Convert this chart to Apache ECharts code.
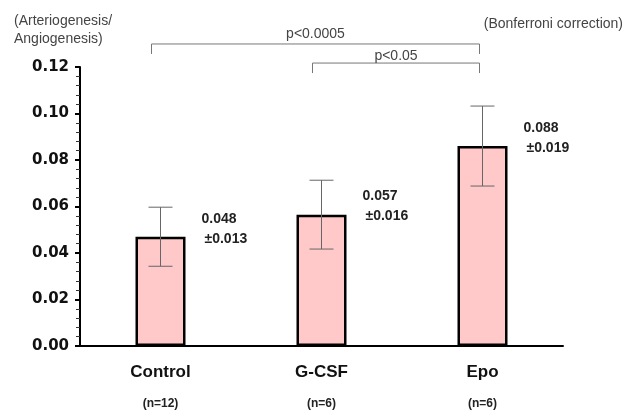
<!DOCTYPE html>
<html><head><meta charset="utf-8">
<script src="https://cdn.jsdelivr.net/npm/echarts@6/dist/echarts.min.js"></script>
<style>html,body{margin:0;padding:0;background:#fff}#c{width:633px;height:410px}</style>
</head><body><div id="c"></div>
<script>
const categories = ['Control', 'G-CSF', 'Epo'];
const sampleSizes = ['(n=12)', '(n=6)', '(n=6)'];
const means = [0.047, 0.0565, 0.086];
const errors = [0.0127, 0.0148, 0.0172];
const meanLabels = ['0.048', '0.057', '0.088'];
const sdLabels = ['±0.013', '±0.016', '±0.019'];
const yTicks = [0, 0.02, 0.04, 0.06, 0.08, 0.10, 0.12];
const comparisons = [
  ['Control', 'Epo', 'p<0.0005'],
  ['G-CSF', 'Epo', 'p<0.05']
];

const FONT = 'Liberation Sans';
const chart = echarts.init(document.getElementById('c'), null, {renderer: 'canvas'});

const errData = categories.map((c, i) => [i, means[i] - errors[i], means[i] + errors[i]]);
const bracketData = comparisons.map((cmp, k) => [
  categories.indexOf(cmp[0]), categories.indexOf(cmp[1]), 0.1299 - k * 0.0082, k
]);

chart.setOption({
  animation: false,
  backgroundColor: '#fff',
  title: [
    {text: '(Arteriogenesis/\nAngiogenesis)', left: 9, top: 7,
     textStyle: {fontFamily: FONT, fontSize: 14, fontWeight: 'normal', color: '#444', lineHeight: 18}},
    {text: '(Bonferroni correction)', right: 5, top: 12,
     textStyle: {fontFamily: FONT, fontSize: 14, fontWeight: 'normal', color: '#444'}}
  ],
  grid: {left: 80, right: 70, top: 67, bottom: 64, containLabel: false, outerBoundsMode: 'none'},
  xAxis: {
    type: 'category', data: categories,
    axisLine: {lineStyle: {color: '#000', width: 2}},
    axisTick: {alignWithLabel: true, length: 4, lineStyle: {color: '#000', width: 2}},
    axisLabel: {
      margin: 12,
      formatter: (v, i) => '{a|' + v + '}\n{b|' + sampleSizes[i] + '}',
      rich: {
        a: {fontFamily: FONT, fontSize: 17, fontWeight: 'bold', color: '#111', lineHeight: 28},
        b: {fontFamily: FONT, fontSize: 12, fontWeight: 'bold', color: '#222', lineHeight: 35}
      }
    }
  },
  yAxis: {
    type: 'value', min: 0, max: 0.12, interval: 0.02,
    splitLine: {show: false},
    axisLine: {show: true, lineStyle: {color: '#000', width: 2}},
    axisTick: {show: true, length: 5, lineStyle: {color: '#000', width: 2}},
    minorTick: {show: true, splitNumber: 5, length: 4, lineStyle: {color: '#333', width: 1}},
    axisLabel: {
      margin: 11, fontFamily: 'DejaVu Sans', fontSize: 15, fontWeight: 'bold', color: '#111',
      formatter: v => yTicks.includes(Math.round(v * 100) / 100) ? v.toFixed(2) : ''
    }
  },
  series: [
    {
      type: 'bar', data: means, barWidth: 50,
      itemStyle: {color: '#ffc9c9', borderColor: '#000', borderWidth: 2.5},
      label: {
        show: true, position: ['100%', 0], offset: [16, -8], align: 'left', verticalAlign: 'middle',
        formatter: p => '{m|' + meanLabels[p.dataIndex] + '}\n{s|' + sdLabels[p.dataIndex] + '}',
        rich: {
          m: {fontFamily: FONT, fontSize: 14, fontWeight: 'bold', color: '#222', lineHeight: 20},
          s: {fontFamily: FONT, fontSize: 14, fontWeight: 'bold', color: '#222', lineHeight: 20, padding: [0, 0, 0, 3]}
        }
      },
      z: 2
    },
    {
      type: 'custom', data: errData, z: 5,
      encode: {x: 0, y: [1, 2]},
      renderItem: (params, api) => {
        const top = api.coord([api.value(0), api.value(2)]);
        const bot = api.coord([api.value(0), api.value(1)]);
        const hw = 12;
        const st = {stroke: '#666', lineWidth: 1};
        return {type: 'group', children: [
          {type: 'line', shape: {x1: top[0], y1: top[1], x2: bot[0], y2: bot[1]}, style: st},
          {type: 'line', shape: {x1: top[0] - hw, y1: top[1], x2: top[0] + hw, y2: top[1]}, style: st},
          {type: 'line', shape: {x1: bot[0] - hw, y1: bot[1], x2: bot[0] + hw, y2: bot[1]}, style: st}
        ]};
      }
    },
    {
      type: 'custom', data: bracketData, z: 5, clip: false,
      encode: {x: [0, 1]},
      renderItem: (params, api) => {
        const lv = api.value(2);
        const a = api.coord([api.value(0), lv]);
        const b = api.coord([api.value(1), lv]);
        const leg = api.coord([api.value(0), lv - 0.0043])[1];
        const x1 = a[0] - 9, x2 = b[0] - 3, y = a[1];
        const st = {stroke: '#777', lineWidth: 1, fill: null};
        const k = api.value(3);
        return {type: 'group', children: [
          {type: 'polyline', shape: {points: [[x1, leg], [x1, y], [x2, y], [x2, leg]]}, style: st},
          {type: 'text', style: {
            text: comparisons[params.dataIndex][2], x: (x1 + x2) / 2, y: y - (k === 0 ? 3 : 0),
            align: 'center', verticalAlign: 'bottom',
            font: 'normal 14px "' + FONT + '"', fill: '#444'
          }}
        ]};
      }
    }
  ]
});
</script></body></html>
